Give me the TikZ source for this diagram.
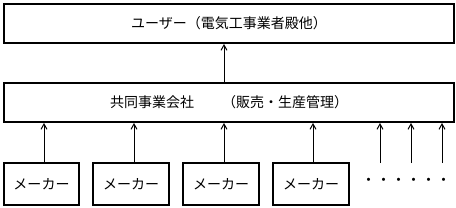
\documentclass[tikz,border=0pt]{standalone}
\usepackage{fontspec}
\setmainfont{Noto Sans CJK JP}
\usetikzlibrary{arrows.meta}
\begin{document}
\begin{tikzpicture}[x=0.75pt,y=-0.75pt,
  box/.style={draw,line width=1.5pt,rectangle,inner sep=0pt,anchor=north west,font=\fontsize{10.5pt}{12pt}\selectfont},
  arr/.style={line width=0.75pt,-{Straight Barb[length=4pt,width=4.5pt]}}]
\useasboundingbox (0,0) rectangle (456,207);
\node[box,minimum width=450*0.75pt,minimum height=39*0.75pt] (user) at (3,3) {ユーザー（電気工事業者殿他）};
\node[box,minimum width=450*0.75pt,minimum height=39*0.75pt] (jv) at (3,82) {共同事業会社　　（販売・生産管理）};
\node[box,minimum width=75*0.75pt,minimum height=42*0.75pt] (m1) at (3,162) {メーカー};
\node[box,minimum width=76*0.75pt,minimum height=42*0.75pt] (m2) at (92,162) {メーカー};
\node[box,minimum width=76*0.75pt,minimum height=42*0.75pt] (m3) at (182,162) {メーカー};
\node[box,minimum width=76*0.75pt,minimum height=42*0.75pt] (m4) at (272,162) {メーカー};
\coordinate (e1) at (380,163);
\coordinate (e2) at (411,163);
\coordinate (e3) at (442,163);
\node[font=\fontsize{11.25pt}{12pt}\selectfont,inner sep=0pt] (dots) at (406,182) {・・・・・・};
\draw[arr] (jv.north -| 224,0) -- (user.south -| 224,0);
\draw[arr] (m1.north -| 44,0) -- (jv.south -| 44,0);
\draw[arr] (m2.north -| 134,0) -- (jv.south -| 134,0);
\draw[arr] (m3.north -| 224,0) -- (jv.south -| 224,0);
\draw[arr] (m4.north -| 313,0) -- (jv.south -| 313,0);
\draw[arr] (e1) -- (e1 |- jv.south);
\draw[arr] (e2) -- (e2 |- jv.south);
\draw[arr] (e3) -- (e3 |- jv.south);
\end{tikzpicture}
\end{document}
